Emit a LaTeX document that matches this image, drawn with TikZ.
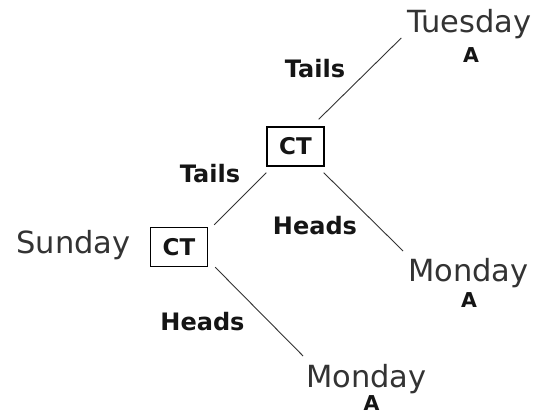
\documentclass[tikz,border=0pt]{standalone}
\usepackage{fontspec}
\setmainfont{DejaVu Sans}
\definecolor{wordgray}{HTML}{333333}
\definecolor{labblack}{HTML}{151515}
\tikzset{
  word/.style={inner sep=0pt, anchor=base, text=wordgray, font=\fontsize{30.5}{36}\selectfont},
  lab/.style={inner sep=0pt, anchor=base, text=labblack, font=\fontsize{24}{28}\selectfont\bfseries},
  amark/.style={inner sep=0pt, anchor=base, text=labblack, font=\fontsize{20.5}{24}\selectfont\bfseries},
  ctbox/.style={draw=black, line width=1.3pt, minimum width=57pt, minimum height=39pt, inner sep=0pt, text=labblack, font=\fontsize{23}{27}\selectfont\bfseries},
  edge/.style={draw=black!80, line width=0.9pt}
}
\begin{document}
\begin{tikzpicture}[x=1pt,y=-1pt]
\useasboundingbox[fill=white] (0,0) rectangle (538,414);
% boxes
\node[ctbox] (ct1) at (295.5,146.5) {CT};
\node[ctbox] (ct2) at (179,247) {CT};
% words
\node[word] (tue) at (469.5,33) {Tuesday};
\node[word] (mon1) at (468.5,281) {Monday};
\node[word] (mon2) at (366.5,387) {Monday};
\node[word] (sun) at (73.5,253) {Sunday};
% A marks
\node[amark] (a1) at (471,63) {A};
\node[amark] (a2) at (469,307) {A};
\node[amark] (a3) at (371.5,410) {A};
% edge labels
\node[lab] (tl1) at (315,78) {Tails};
\node[lab] (tl2) at (210,183) {Tails};
\node[lab] (hd1) at (315,235) {Heads};
\node[lab] (hd2) at (202.5,330) {Heads};
% connectors
\draw[edge] ([shift={(-6,-7)}]ct1.north east) -- ([shift={(-6,5)}]tue.base west);
\draw[edge] ([shift={(-1,6)}]ct1.south east) -- ([shift={(-5,-30)}]mon1.base west);
\draw[edge] ([shift={(6,-2)}]ct2.north east) -- ([shift={(0,6)}]ct1.south west);
\draw[edge] ([shift={(7,0)}]ct2.south east) -- ([shift={(-3,-31)}]mon2.base west);
\end{tikzpicture}
\end{document}
